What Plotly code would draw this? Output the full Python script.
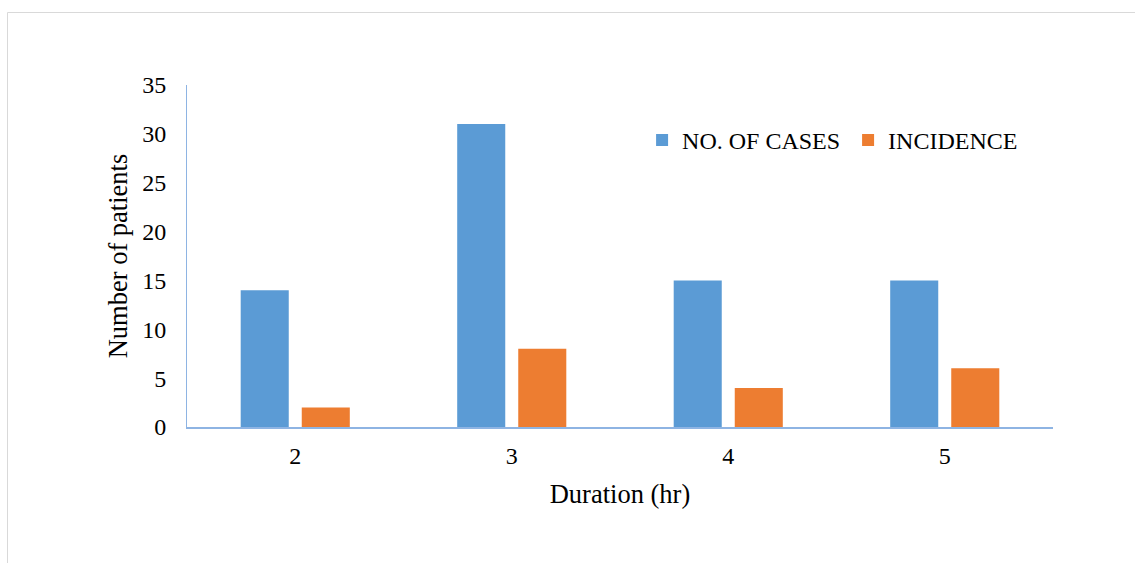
import plotly.graph_objects as go

categories = ["2", "3", "4", "5"]
cases = [14, 31, 15, 15]
incidence = [2, 8, 4, 6]
series_names = ["NO. OF CASES", "INCIDENCE"]
y_ticks = [0, 5, 10, 15, 20, 25, 30, 35]

FONT = "Liberation Serif"
TICK_SIZE = 24
TITLE_SIZE = 26.5
W, H = 1135, 563
ML, MR, MT, MB = 187, 82, 85, 136
pw, ph = W - ML - MR, H - MT - MB

fig = go.Figure()
fig.add_trace(go.Bar(x=categories, y=cases, name=series_names[0],
                     marker=dict(color="#5B9BD5", line=dict(width=0))))
fig.add_trace(go.Bar(x=categories, y=incidence, name=series_names[1],
                     marker=dict(color="#ED7D31", line=dict(width=0))))

axis_color = "#8EB4E3"

fig.update_layout(
    width=W, height=H,
    margin=dict(l=ML, r=MR, t=MT, b=MB, autoexpand=False),
    paper_bgcolor="white", plot_bgcolor="white",
    font=dict(family=FONT, size=TICK_SIZE, color="black"),
    barmode="group", bargap=0.436, bargroupgap=0.213,
    showlegend=True,
    legend=dict(orientation="h", x=0.5255, y=0.838, xanchor="left", yanchor="middle",
                font=dict(family=FONT, size=TICK_SIZE, color="black"),
                bgcolor="rgba(0,0,0,0)", itemclick=False,
                entrywidth=161, entrywidthmode="pixels"),
    xaxis=dict(type="category", showgrid=False, zeroline=False,
               showline=True, linecolor=axis_color, linewidth=2,
               ticks="", ticklabelstandoff=6,
               tickfont=dict(family=FONT, size=TICK_SIZE, color="black"),
               title=dict(text="Duration (hr)", standoff=17,
                          font=dict(family=FONT, size=TITLE_SIZE, color="black"))),
    yaxis=dict(range=[0, 35], tickvals=y_ticks, showgrid=False, zeroline=False,
               showline=True, linecolor=axis_color, linewidth=1,
               ticks="", ticklabelstandoff=15,
               tickfont=dict(family=FONT, size=TICK_SIZE, color="black"),
               title=dict(text="Number of patients", standoff=6,
                          font=dict(family=FONT, size=TITLE_SIZE, color="black"))),
)

# outer chart border (extends beyond the window on right and bottom)
fig.add_shape(type="rect", xref="paper", yref="paper",
              x0=(7.5 - ML) / pw, x1=(W + 10 - ML) / pw,
              y0=-(H + 10 - MT - ph) / ph, y1=(H - MB - 12.5) / ph,
              line=dict(color="#D9D9D9", width=1), fillcolor="rgba(0,0,0,0)",
              layer="below")

fig.write_html("out.html")
